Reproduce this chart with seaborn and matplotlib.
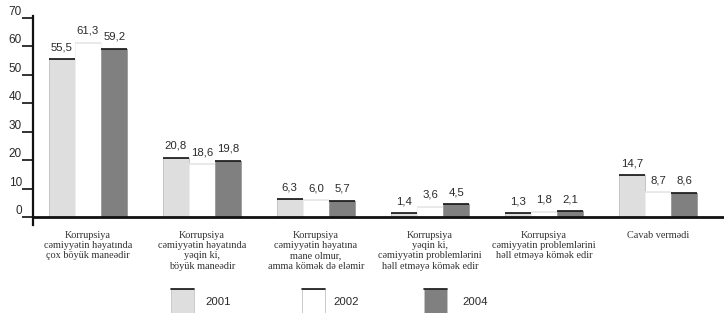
import matplotlib
matplotlib.use("Agg")
import matplotlib.pyplot as plt
import seaborn as sns
import pandas as pd
from matplotlib.patches import Rectangle
from matplotlib.lines import Line2D

categories = [
    "Korrupsiya\ncəmiyyətin həyatında\nçox böyük maneədir",
    "Korrupsiya\ncəmiyyətin həyatında\nyəqin ki,\nböyük maneədir",
    "Korrupsiya\ncəmiyyətin həyatına\nmane olmur,\namma kömək də eləmir",
    "Korrupsiya\nyəqin ki,\ncəmiyyətin problemlərini\nhəll etməyə kömək edir",
    "Korrupsiya\ncəmiyyətin problemlərini\nhəll etməyə kömək edir",
    "Cavab vermədi",
]
years = ["2001", "2002", "2004"]
v2001 = [55.5, 20.8, 6.3, 1.4, 1.3, 14.7]
v2002 = [61.3, 18.6, 6.0, 3.6, 1.8, 8.7]
v2004 = [59.2, 19.8, 5.7, 4.5, 2.1, 8.6]
yticks = [0, 10, 20, 30, 40, 50, 60, 70]

bar_colors = ["#dedede", "#ffffff", "#808080"]
top_colors = ["#111111", "#e6e6e6", "#111111"]
side_colors = ["#bdbdbd", "#f0f0f0", "#9a9a9a"]

sns.set_theme(style="white")
plt.rcParams['font.family'] = ['Liberation Sans', 'DejaVu Sans']

rows = []
for yr, vals in zip(years, [v2001, v2002, v2004]):
    for c, v in zip(categories, vals):
        rows.append({"cat": c, "year": yr, "val": v})
df = pd.DataFrame(rows)

W, H = 724, 313
fig = plt.figure(figsize=(W / 100, H / 100), dpi=100)
ax = fig.add_axes([33 / W, 88 / H, (W - 33) / W, 209 / H])

sns.barplot(data=df, x="cat", y="val", hue="year", order=categories, hue_order=years,
            palette=bar_colors, saturation=1, width=0.69, edgecolor="#c4c4c4",
            linewidth=0.6, ax=ax, legend=False, errorbar=None)

for cont, tc, sc in zip(ax.containers, top_colors, side_colors):
    for p in cont.patches:
        p.set_edgecolor(sc)
        x0 = p.get_x()
        x1 = x0 + p.get_width()
        h = p.get_height()
        ax.plot([x0, x1], [h, h], color=tc, lw=1.2, solid_capstyle="butt", zorder=5)
    ax.bar_label(cont, labels=[f"{p.get_height():.1f}".replace(".", ",") for p in cont.patches],
                 padding=5, fontsize=8.2, color="#2a2a2a")

ax.set_xlim(-0.482, 5.579)
ax.set_ylim(-2.8, 70.7)
ax.axhline(0, color="#111111", lw=2, clip_on=False, zorder=6)

for s in ["top", "right", "bottom"]:
    ax.spines[s].set_visible(False)
ax.spines["left"].set_color("#111111")
ax.spines["left"].set_linewidth(1.6)

ax.set_yticks(yticks)
ax.set_yticklabels([str(t) for t in yticks])
ax.tick_params(axis="y", left=True, length=8, width=1.2, pad=0, direction="out",
               labelsize=8.5, colors="#111111", labelcolor="#2a2a2a")
for lab in ax.get_yticklabels():
    lab.set_va("bottom")

ax.set_xticks(range(len(categories)))
ax.set_xticklabels(categories, fontsize=7.4, linespacing=1.2, color="#333333",
                   family=["Liberation Serif", "DejaVu Serif"], va="top")
ax.tick_params(axis="x", length=0, pad=4)
ax.set_xlabel("")
ax.set_ylabel("")

# Legend
sq_x = [171, 302, 424]
txt_x = [205, 333, 462]
for i, yr in enumerate(years):
    r = Rectangle((sq_x[i] / W, 0), 23 / W, 24 / H, transform=fig.transFigure,
                  facecolor=bar_colors[i], edgecolor="#c4c4c4", linewidth=0.6)
    fig.add_artist(r)
    fig.add_artist(Line2D([sq_x[i] / W, (sq_x[i] + 23) / W], [24 / H, 24 / H],
                          transform=fig.transFigure, color="#111111", lw=1.2))
    fig.text(txt_x[i] / W, (H - 302) / H, yr, fontsize=8.2, va="center", ha="left",
             color="#2a2a2a")

fig.savefig("out.png", dpi=100)
